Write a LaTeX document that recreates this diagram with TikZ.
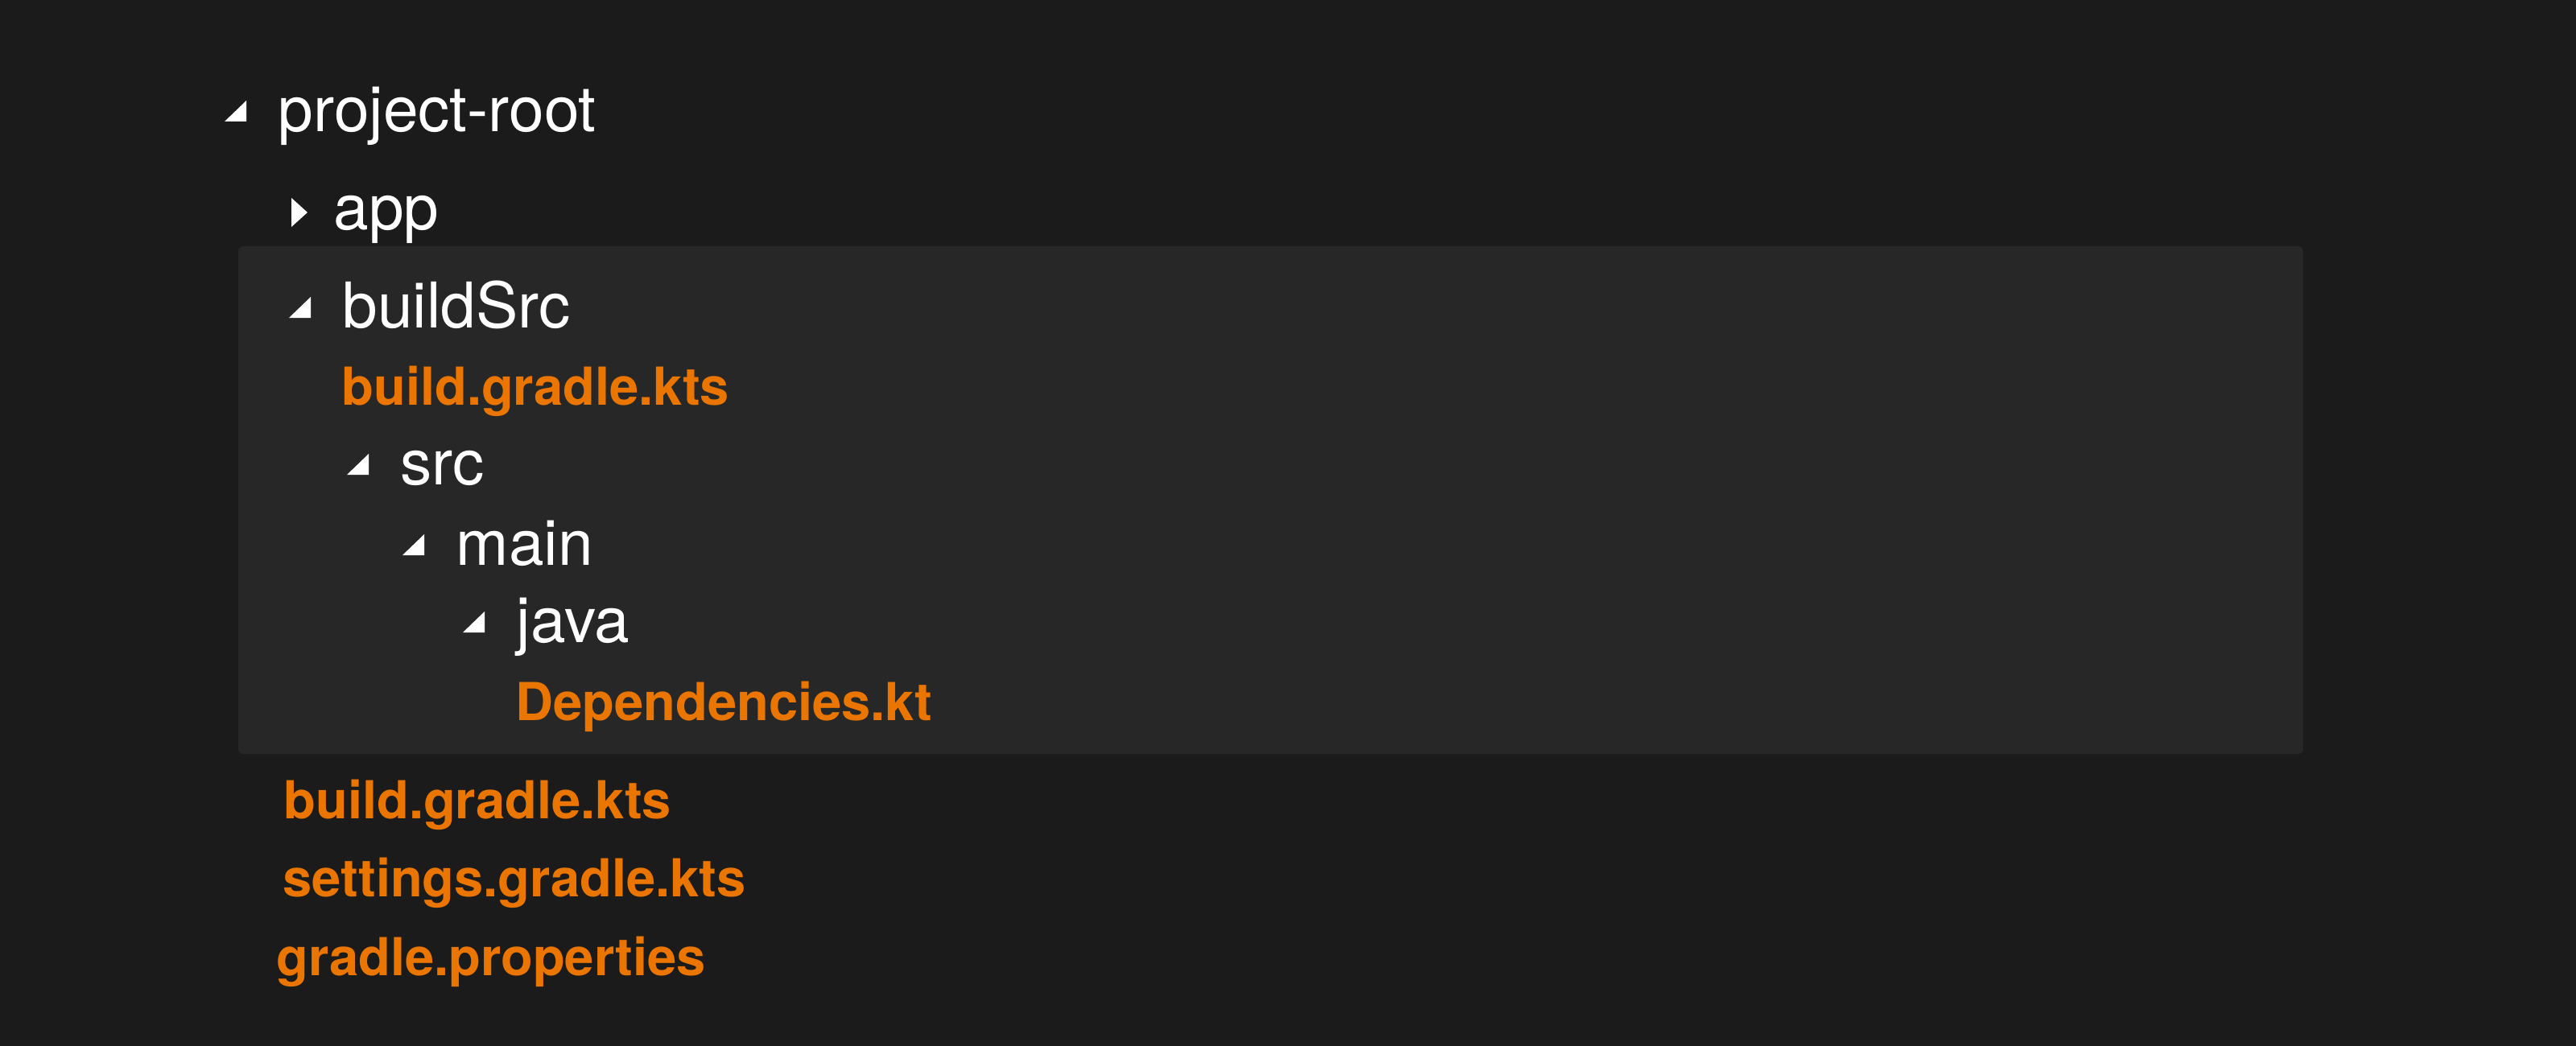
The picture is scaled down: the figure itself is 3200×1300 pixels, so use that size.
\documentclass[tikz,border=0pt]{standalone}
\usepackage{fontspec}
\setmainfont{TeX Gyre Heros}
\usetikzlibrary{calc}

\definecolor{panelbg}{HTML}{1B1B1B}
\definecolor{openpanel}{HTML}{272727}
\definecolor{kotlinorange}{HTML}{EA7500}

\tikzset{
  folder/.style={anchor=base west,inner sep=0pt,text=white,font=\fontsize{22.3pt}{26pt}\selectfont},
  gradlefile/.style={anchor=base west,inner sep=0pt,text=kotlinorange,font=\fontsize{18.5pt}{22pt}\selectfont\bfseries},
}

% expanded / collapsed marks, placed from the label they belong to
\newcommand{\openmark}[1]{\fill[white] ($(#1.base west)+(-66,-12)$) -- ++(27,0) -- ++(0,-26) -- cycle;}
\newcommand{\closedmark}[1]{\fill[white] ($(#1.base west)+(-52,-3)$) -- ++(20,-18) -- ++(-20,-18) -- cycle;}

\begin{document}
\begin{tikzpicture}[x=0.01cm,y=-0.01cm]
% dark background, fixes the page size
\fill[panelbg] (0,0) rectangle (3200,1300);

% highlighted buildSrc panel
\fill[openpanel,rounded corners=1.7pt] (296,306) rectangle (2861,937);

% folders
\node (root) at (345,163) [folder] {project-root};
\node (app) at (414,285) [folder] {app};
\node (buildsrc) at (425,407) [folder] {buildSrc};
\node (src) at (497,602) [folder] {src};
\node (main) at (566,702) [folder] {main};
\node (java) at (641,798) [folder] {java};

% files
\node (srcbuild) at (424,503) [gradlefile] {build.gradle.kts};
\node (deps) at (640,895) [gradlefile] {Dependencies.kt};
\node (rootbuild) at (352,1017) [gradlefile] {build.gradle.kts};
\node (settings) at (351,1114) [gradlefile] {settings.gradle.kts};
\node (props) at (343,1212) [gradlefile] {gradle.properties};

% tree marks
\openmark{root}
\closedmark{app}
\openmark{buildsrc}
\openmark{src}
\openmark{main}
\openmark{java}

\end{tikzpicture}
\end{document}
